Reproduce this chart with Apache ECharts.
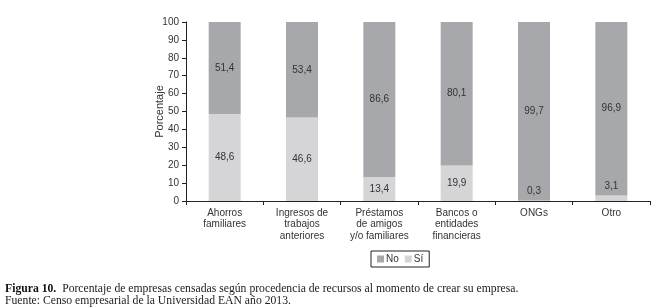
<!DOCTYPE html>
<html>
<head>
<meta charset="utf-8">
<script src="https://cdn.jsdelivr.net/npm/echarts@6/dist/echarts.min.js"></script>
<style>
html,body{margin:0;padding:0;background:#fff;}
#c{width:665px;height:308px;}
</style>
</head>
<body>
<div id="c"></div>
<script>
var categories = ["Ahorros\nfamiliares", "Ingresos de\ntrabajos\nanteriores", "Préstamos\nde amigos\ny/o familiares", "Bancos o\nentidades\nfinancieras", "ONGs", "Otro"];
var siValues = [48.6, 46.6, 13.4, 19.9, 0.3, 3.1];
var noValues = [51.4, 53.4, 86.6, 80.1, 99.7, 96.9];
var yTicks = [0, 10, 20, 30, 40, 50, 60, 70, 80, 90, 100];

function fmt(v){ return String(v.toFixed(1)).replace('.', ','); }

var chart = echarts.init(document.getElementById('c'), null, {renderer: 'canvas'});

var siData = siValues.map(function(v){
  var item = {value: v};
  if (v < 5) { item.label = {position: 'top', distance: 4}; }
  return item;
});

chart.setOption({
  animation: false,
  textStyle: {fontFamily: 'Liberation Sans, Arial, sans-serif'},
  grid: {left: 186, right: 15, top: 22, bottom: 107, containLabel: false},
  legend: {
    data: ['No', 'Sí'],
    left: 371, top: 251,
    itemWidth: 7, itemHeight: 7, itemGap: 6,
    padding: [3, 6, 3, 6],
    borderColor: '#222', borderWidth: 1,
    icon: 'rect',
    textStyle: {fontSize: 10, color: '#333', padding: [0, 0, 0, -3]}
  },
  xAxis: {
    type: 'category',
    data: categories,
    axisLine: {lineStyle: {color: '#222', width: 1}},
    axisTick: {show: true, length: 4, alignWithLabel: false, lineStyle: {color: '#222'}},
    axisLabel: {fontSize: 10, color: '#333', lineHeight: 11.5, margin: 6, interval: 0}
  },
  yAxis: {
    type: 'value',
    min: 0, max: 100, interval: 10,
    name: 'Porcentaje',
    nameLocation: 'middle',
    nameGap: 21,
    nameMoveOverlap: false,
    nameTextStyle: {fontSize: 11, color: '#333'},
    axisLine: {show: true, lineStyle: {color: '#222', width: 1}},
    axisTick: {show: true, length: 4, lineStyle: {color: '#222'}},
    axisLabel: {fontSize: 10, color: '#333', margin: 7,
      formatter: function(v){ return yTicks.indexOf(v) >= 0 ? String(v) : ''; }},
    splitLine: {show: false}
  },
  series: [
    {
      name: 'Sí', type: 'bar', stack: 't', data: siData,
      barWidth: 32,
      itemStyle: {color: '#d5d5d7'},
      label: {show: true, position: 'inside', fontSize: 10, color: '#333',
        formatter: function(p){ return fmt(p.value); }}
    },
    {
      name: 'No', type: 'bar', stack: 't', data: noValues,
      barWidth: 32,
      itemStyle: {color: '#a7a8ab'},
      label: {show: true, position: 'inside', fontSize: 10, color: '#333',
        formatter: function(p){ return fmt(p.value); }}
    }
  ],
  graphic: [
    {
      type: 'text', left: 5, top: 283,
      style: {
        text: '{b|Figura 10.}  Porcentaje de empresas censadas según procedencia de recursos al momento de crear su empresa.',
        rich: {b: {fontWeight: 'bold', fontFamily: 'Liberation Serif, serif', fontSize: 11.7, fill: '#111'}},
        fontFamily: 'Liberation Serif, serif', fontSize: 11.7, fill: '#222'
      }
    },
    {
      type: 'text', left: 5, top: 295,
      style: {
        text: 'Fuente: Censo empresarial de la Universidad EAN año 2013.',
        fontFamily: 'Liberation Serif, serif', fontSize: 11.7, fill: '#222'
      }
    }
  ]
});
</script>
</body>
</html>
